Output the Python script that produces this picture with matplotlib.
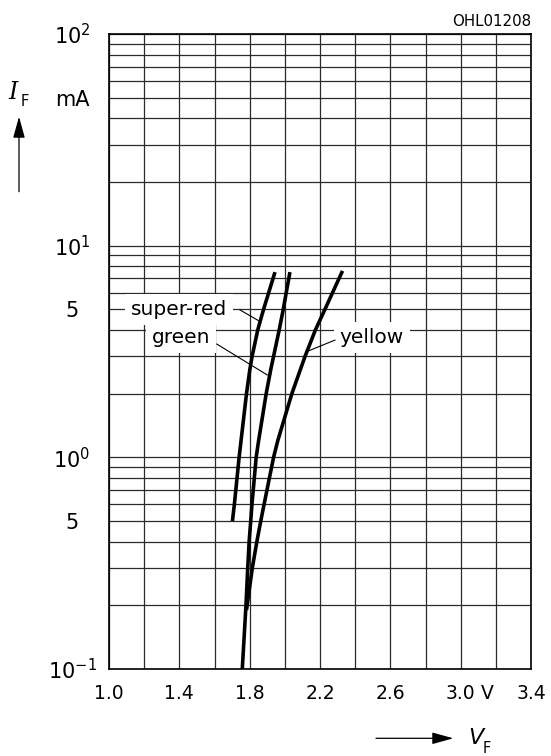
import numpy as np
import matplotlib
matplotlib.use("Agg")
import matplotlib.pyplot as plt
from matplotlib.ticker import MultipleLocator, LogLocator, NullFormatter

# forward voltage (V) / forward current (mA)
super_red_vf = [1.702, 1.713, 1.740, 1.751, 1.782, 1.801, 1.814, 1.846, 1.879, 1.944]
super_red_if = [0.5, 0.6, 1.0, 1.2, 2.0, 2.6, 3.0, 4.0, 5.0, 7.5]

green_vf = [1.758, 1.779, 1.789, 1.797, 1.806, 1.813, 1.837, 1.851, 1.894, 1.920, 1.936, 1.968, 1.991, 2.029]
green_if = [0.1, 0.2, 0.3, 0.4, 0.5, 0.6, 1.0, 1.2, 2.0, 2.6, 3.0, 4.0, 5.0, 7.5]

yellow_vf = [1.782, 1.815, 1.841, 1.863, 1.882, 1.936, 1.960, 2.040, 2.115, 2.174, 2.228, 2.328]
yellow_if = [0.19, 0.3, 0.4, 0.5, 0.6, 1.0, 1.2, 2.0, 3.0, 4.0, 5.0, 7.6]

x_ticks = [1.0, 1.4, 1.8, 2.2, 2.6, 3.0, 3.15, 3.4]
x_labels = ["1.0", "1.4", "1.8", "2.2", "2.6", "3.0", "V", "3.4"]
y_ticks = [0.1, 0.5, 1, 5, 10, 50, 100]
y_labels = [r"$10^{-1}$", "5", r"$10^{0}$", "5", r"$10^{1}$", "mA", r"$10^{2}$"]

W, H = 551, 756
fig = plt.figure(figsize=(W / 100, H / 100), dpi=100)
ax = fig.add_axes([109 / W, 1 - 669 / H, 422 / W, 635 / H])

ax.set_yscale("log")
ax.set_xlim(1.0, 3.4)
ax.set_ylim(0.1, 100)

# grid: every 0.2 V and every 1..9 step per decade
ax.xaxis.set_minor_locator(MultipleLocator(0.2))
ax.yaxis.set_minor_locator(LogLocator(base=10, subs=np.arange(1, 10), numticks=50))
ax.yaxis.set_minor_formatter(NullFormatter())
ax.xaxis.remove_overlapping_locs = False
ax.yaxis.remove_overlapping_locs = False
ax.grid(which="major", visible=False)
ax.grid(which="minor", color="#2a2a2a", lw=0.9)
ax.set_axisbelow(True)

ax.set_xticks(x_ticks)
ax.set_xticklabels(x_labels, fontsize=13.5)
ax.set_yticks(y_ticks)
ax.set_yticklabels(y_labels, fontsize=15)
ax.tick_params(which="both", length=0)
ax.tick_params(axis="x", pad=11)
ax.tick_params(axis="y", pad=26.6)
for lab in ax.get_yticklabels():
    lab.set_horizontalalignment("center")

for sp in ax.spines.values():
    sp.set_linewidth(1.2)

for vf, i_f in [(super_red_vf, super_red_if), (green_vf, green_if), (yellow_vf, yellow_if)]:
    ax.plot(vf, i_f, color="black", lw=2.6, solid_capstyle="butt", zorder=3)

box = dict(boxstyle="square,pad=0.3", fc="white", ec="none")
ax.text(1.40, 5.0, "super-red", fontsize=14.5, ha="center", va="center", bbox=box, zorder=4)
ax.text(1.41, 3.68, "green", fontsize=14.5, ha="center", va="center", bbox=box, zorder=4)
ax.text(2.494, 3.68, "yellow", fontsize=14.5, ha="center", va="center", bbox=box, zorder=4)

# leader lines
ax.plot([1.745, 1.855], [4.97, 4.4], color="black", lw=0.8, zorder=5)
ax.plot([1.613, 1.90], [3.43, 2.45], color="black", lw=0.8, zorder=5)
ax.plot([2.285, 2.125], [3.58, 3.16], color="black", lw=0.8, zorder=5)

# axis arrows and quantity symbols
arrow = dict(arrowstyle="-|>,head_length=1.3,head_width=0.36", color="black",
             lw=0.9, shrinkA=0, shrinkB=0, mutation_scale=10)
ax.annotate("", xy=(19, H - 116.7), xytext=(19, H - 191.7), xycoords="figure pixels",
            textcoords="figure pixels", arrowprops=arrow, annotation_clip=False)
ax.annotate("", xy=(453.3, H - 738.3), xytext=(376, H - 738.3), xycoords="figure pixels",
            textcoords="figure pixels", arrowprops=arrow, annotation_clip=False)

fig.text(13.5 / W, 1 - 92.5 / H, "I", family="DejaVu Serif", style="italic",
         fontsize=17, ha="center", va="center")
fig.text(24.5 / W, 1 - 101 / H, "F", fontsize=10.5, ha="center", va="center")
fig.text(476 / W, 1 - 738 / H, "V", style="italic", fontsize=16, ha="center", va="center")
fig.text(486.5 / W, 1 - 748.5 / H, "F", fontsize=10.5, ha="center", va="center")

fig.text(531 / W, 1 - 26 / H, "OHL01208", fontsize=10.8, ha="right", va="baseline")

fig.savefig("out.png", dpi=100)
